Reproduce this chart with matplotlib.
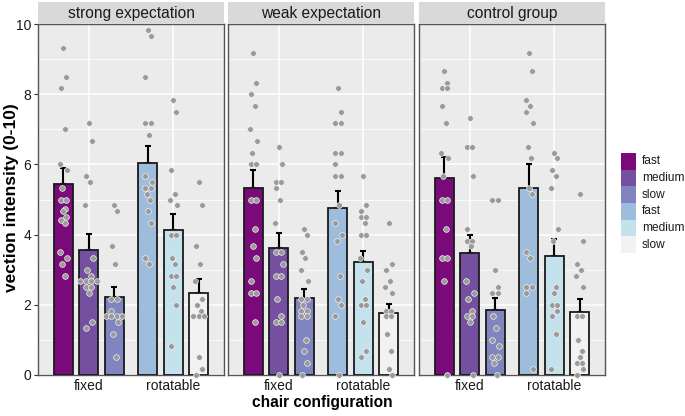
import numpy as np
import matplotlib
matplotlib.use("Agg")
import matplotlib.pyplot as plt
from matplotlib.patches import Rectangle

plt.rcParams['font.family'] = ['Liberation Sans', 'DejaVu Sans']

# facets, x categories, speed levels
groups = ["strong expectation", "weak expectation", "control group"]
chairs = ["fixed", "rotatable"]
speeds = ["fast", "medium", "slow"]
legend_labels = ["fast", "medium", "slow", "fast", "medium", "slow"]
colors = ["#7a0a7a", "#7550a0", "#8085c0", "#9ebcdc", "#c4e2ec", "#f2f2f2"]

# bar means (order: fixed fast, fixed medium, fixed slow, rot fast, rot medium, rot slow)
means_strong = [5.44, 3.56, 2.22, 6.04, 4.13, 2.34]
means_weak = [5.33, 3.62, 2.19, 4.75, 3.22, 1.77]
means_control = [5.61, 3.47, 1.85, 5.33, 3.39, 1.79]

# standard errors (upper whisker only visible)
se_strong = [0.46, 0.46, 0.28, 0.48, 0.46, 0.39]
se_weak = [0.51, 0.42, 0.26, 0.49, 0.31, 0.25]
se_control = [0.60, 0.52, 0.34, 0.67, 0.48, 0.37]

# individual ratings
pts_strong = [
    [9.33, 8.5, 8.17, 7.0, 6.0, 5.83, 5.33, 5.0, 5.0, 4.73, 4.67, 4.5, 4.43, 4.33, 3.5, 3.33, 3.17, 2.83],
    [7.17, 6.67, 5.67, 5.5, 4.83, 3.33, 3.0, 2.83, 2.67, 2.67, 2.67, 2.67, 2.5, 2.5, 2.33, 1.5, 1.33],
    [4.83, 4.67, 3.67, 3.17, 2.17, 2.17, 1.83, 1.67, 1.67, 1.67, 1.67, 1.5, 1.17, 0.5],
    [9.83, 9.67, 8.5, 7.17, 7.17, 6.83, 5.67, 5.5, 5.33, 5.33, 5.17, 5.0, 4.67, 4.33, 3.33, 3.17],
    [7.83, 7.5, 5.83, 5.17, 5.0, 4.83, 4.0, 4.0, 3.33, 3.17, 2.83, 2.83, 2.5, 2.0, 0.83],
    [5.5, 4.83, 3.67, 3.17, 2.67, 2.17, 2.0, 1.83, 1.67, 1.67, 1.67, 0.5, 0.17, 0.0],
]
pts_weak = [
    [9.17, 8.33, 8.0, 7.67, 7.0, 6.67, 6.33, 6.0, 6.0, 5.0, 5.0, 4.17, 3.67, 3.33, 2.67, 2.33, 2.33, 1.5],
    [6.5, 6.0, 5.5, 5.5, 5.33, 5.0, 4.33, 3.5, 3.5, 3.17, 2.83, 2.83, 2.17, 1.67, 1.5, 1.5, 0.0],
    [4.17, 4.0, 3.5, 3.33, 3.0, 2.67, 2.17, 2.17, 2.0, 1.83, 1.83, 1.67, 1.67, 1.0, 0.67, 0.33, 0.0],
    [8.17, 7.5, 7.17, 7.17, 6.33, 6.33, 6.0, 5.67, 5.67, 4.83, 4.33, 4.0, 3.83, 2.83, 2.17, 2.0, 1.67, 0.0],
    [5.67, 4.83, 4.67, 4.5, 4.5, 4.33, 4.0, 4.0, 3.33, 3.0, 2.67, 2.17, 2.0, 2.0, 1.5, 0.67, 0.5],
    [4.33, 3.17, 3.0, 2.67, 2.5, 2.33, 1.83, 1.83, 1.67, 1.67, 1.17, 0.67, 0.17, 0.0],
]
pts_control = [
    [8.67, 8.33, 8.17, 8.17, 7.67, 7.17, 6.33, 6.17, 5.67, 5.0, 5.0, 4.17, 3.33, 3.33, 2.67, 0.0],
    [7.33, 6.5, 6.5, 5.67, 4.17, 3.83, 3.83, 3.67, 2.67, 2.33, 2.17, 1.83, 1.67, 1.67, 1.5, 0.0],
    [5.0, 5.0, 3.0, 2.5, 2.33, 2.33, 1.67, 1.33, 1.0, 0.83, 0.5, 0.5, 0.33, 0.0],
    [9.17, 8.67, 7.83, 7.67, 7.5, 7.17, 6.5, 6.17, 5.33, 5.17, 3.5, 3.33, 2.5, 2.5, 2.33, 0.17],
    [6.33, 6.17, 5.83, 5.67, 5.33, 4.17, 3.83, 2.5, 2.33, 2.0, 2.0, 1.83, 1.67, 1.17, 0.17],
    [5.17, 3.83, 3.17, 3.0, 2.83, 2.5, 1.67, 1.67, 1.0, 0.67, 0.5, 0.33, 0.33, 0.17, 0.0],
]

means = [means_strong, means_weak, means_control]
ses = [se_strong, se_weak, se_control]
points = [pts_strong, pts_weak, pts_control]

W, H = 685, 416
fig = plt.figure(figsize=(W / 100, H / 100), dpi=100)

panel_left = [38, 228, 419]
panel_w = 186
p_top, p_bot = 24, 375

dodge = [-0.3, 0.0, 0.3]
bar_w = 0.225
cycle = [0.0, 0.035, -0.03, 0.015, -0.04, 0.045, -0.015, 0.025]


def spread(vals):
    # side-by-side placement for tied ratings, small fixed offsets otherwise
    offs = np.zeros(len(vals))
    vals = np.asarray(vals)
    done = np.zeros(len(vals), bool)
    k = 0
    for i in range(len(vals)):
        if done[i]:
            continue
        idx = np.where((np.abs(vals - vals[i]) < 0.02) & ~done)[0]
        n = len(idx)
        if n == 1:
            offs[i] = cycle[k % len(cycle)]
            k += 1
        else:
            offs[idx] = (np.arange(n) - (n - 1) / 2) * 0.065
        done[idx] = True
    return offs


for g in range(3):
    x0 = panel_left[g]
    ax = fig.add_axes([x0 / W, 1 - p_bot / H, panel_w / W, (p_bot - p_top) / H])
    ax.set_facecolor("#ebebeb")
    ax.set_xlim(0.4, 2.6)
    ax.set_ylim(0, 10)
    ax.set_yticks([0, 2, 4, 6, 8, 10])
    ax.set_yticks([1, 3, 5, 7, 9], minor=True)
    ax.set_xticks([1, 2])
    ax.set_xticklabels(chairs)
    ax.grid(True, which="major", color="white", lw=1.1)
    ax.grid(True, which="minor", axis="y", color="white", lw=0.55)
    ax.set_axisbelow(True)
    for s in ax.spines.values():
        s.set_color("#555555")
        s.set_linewidth(1.0)
    ax.tick_params(axis="both", which="major", length=3, color="#333333",
                   labelsize=10, labelcolor="#1a1a1a", pad=2)
    ax.tick_params(axis="x", length=0, pad=3)
    ax.tick_params(which="minor", length=0)
    if g > 0:
        ax.set_yticklabels([])
        ax.tick_params(axis="y", length=0)

    for j in range(6):
        c = j // 3
        xc = 1 + c + dodge[j % 3]
        m = means[g][j]
        e = ses[g][j]
        ax.errorbar(xc, m, yerr=[[0], [e]], fmt="none", ecolor="black",
                    elinewidth=1.5, capsize=2.2, capthick=1.5, zorder=2)
        ax.bar(xc, m, width=bar_w, color=colors[j], edgecolor="#1a1a1a",
               linewidth=1.3, zorder=3)
        vals = points[g][j]
        ax.scatter(xc + spread(vals), vals, s=17, color="#9a9a9a",
                   edgecolors="#f0f0f0", linewidths=0.5, zorder=4, clip_on=False)

    # strip
    sx = fig.add_axes([x0 / W, 1 - p_top / H, panel_w / W, 22 / H])
    sx.set_facecolor("#d9d9d9")
    sx.set_xticks([])
    sx.set_yticks([])
    for s in sx.spines.values():
        s.set_visible(False)
    sx.text(0.5, 0.48, groups[g], ha="center", va="center", fontsize=11.2,
            color="#1a1a1a", transform=sx.transAxes)

fig.text(12 / W, 1 - 198 / H, "vection intensity (0-10)", rotation=90,
         ha="center", va="center", fontsize=12.5, fontweight="bold")
fig.text(322 / W, 1 - 402 / H, "chair configuration", ha="center", va="center",
         fontsize=11.2, fontweight="bold")

# legend: stacked colour keys, no gaps
key_x, key_y, key_w, key_h = 621, 153, 15, 16.7
for i, lab in enumerate(legend_labels):
    top = key_y + i * key_h
    fig.patches.append(Rectangle((key_x / W, 1 - (top + key_h) / H), key_w / W, key_h / H,
                                 transform=fig.transFigure, facecolor=colors[i],
                                 edgecolor="none"))
    fig.text((key_x + key_w + 6) / W, 1 - (top + key_h / 2) / H, lab,
             ha="left", va="center", fontsize=8.6, color="#1a1a1a")

fig.savefig("out.png", dpi=100)
